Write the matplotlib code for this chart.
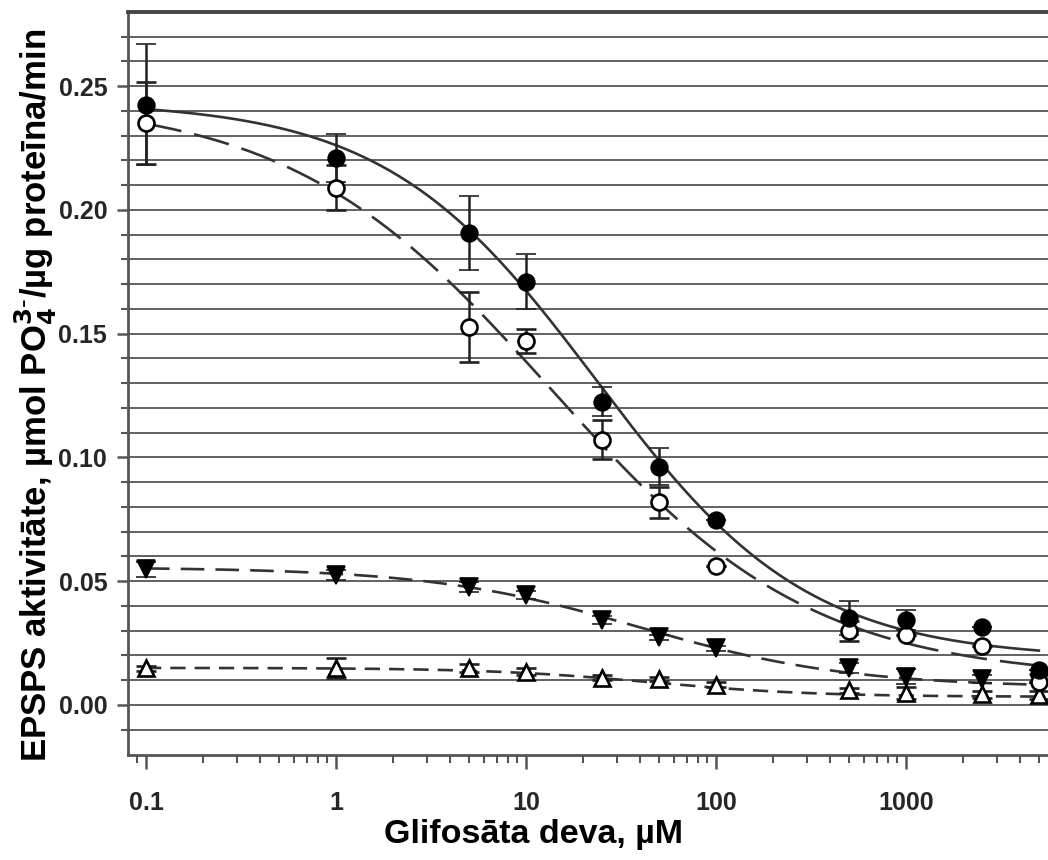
import numpy as np
import matplotlib
matplotlib.use("Agg")
import matplotlib.pyplot as plt
from matplotlib.ticker import FixedLocator, LogLocator, NullFormatter, FixedFormatter

# ---------------- data ----------------
doses = [0.1, 1, 5, 10, 25, 50, 100, 500, 1000, 2500, 5000]

filled_circle = [0.2425, 0.221, 0.1905, 0.171, 0.1225, 0.0963, 0.0748, 0.0352, 0.0343, 0.0316, 0.0143]
filled_circle_err = [0.0245, 0.0096, 0.015, 0.011, 0.0058, 0.0074, 0.0, 0.0068, 0.0040, 0.0, 0.0]

open_circle = [0.2352, 0.209, 0.1527, 0.147, 0.1072, 0.0818, 0.0563, 0.0300, 0.0283, 0.0240, 0.0094]
open_circle_err = [0.0165, 0.009, 0.014, 0.005, 0.0078, 0.0062, 0.0, 0.0040, 0.0, 0.0, 0.0]

filled_tri = [0.0548, 0.0525, 0.0478, 0.0444, 0.0343, 0.0273, 0.0229, 0.0148, 0.0115, 0.0105, 0.0090]
filled_tri_err = [0.0030, 0.0020, 0.0020, 0.0015, 0.0015, 0.0010, 0.0010, 0.0020, 0.0030, 0.0015, 0.0]

open_tri = [0.0149, 0.0150, 0.0149, 0.0135, 0.0110, 0.0105, 0.0081, 0.0060, 0.0049, 0.0043, 0.0040]
open_tri_err = [0.0010, 0.0040, 0.0015, 0.0015, 0.0010, 0.0010, 0.0010, 0.0010, 0.0025, 0.0015, 0.0015]

# fitted dose-response (4PL) curve parameters: top, bottom, IC50 (µM), Hill slope
fit_filled_circle = [0.2438, 0.0186, 23.44, 0.78]
fit_open_circle = [0.2450, 0.0104, 13.49, 0.63]
fit_filled_tri = [0.0556, 0.0071, 39.81, 0.78]
fit_open_tri = [0.0150, 0.0033, 45.71, 1.00]

x_tick_vals = [0.1, 1, 10, 100, 1000]
x_tick_labels = ['0.1', '1', '10', '100', '1000']
y_tick_vals = [0.0, 0.05, 0.10, 0.15, 0.20, 0.25]
y_tick_labels = ['0.00', '0.05', '0.10', '0.15', '0.20', '0.25']


def four_pl(x, top, bottom, ic50, hill):
    return bottom + (top - bottom) / (1 + (x / ic50) ** hill)


# ---------------- figure ----------------
plt.rcParams['font.family'] = ['Liberation Sans', 'DejaVu Sans']
plt.rcParams['lines.scale_dashes'] = False

fig = plt.figure(figsize=(10.48, 8.6), dpi=100)
ax = fig.add_axes([128 / 1048, 105 / 860, 920 / 1048, 743 / 860])
ax.set_xscale('log')
ax.set_xlim(0.0804, 5585)
ax.set_ylim(-0.0202, 0.2799)

line_col = '#333333'
xs = np.logspace(-1, np.log10(5000), 400)

curves = [
    (fit_filled_circle, '-'),
    (fit_open_circle, (0, (26, 9.5))),
    (fit_filled_tri, (0, (17, 8))),
    (fit_open_tri, (0, (11, 6.5))),
]
for p, ls in curves:
    ax.plot(xs, four_pl(xs, *p), color=line_col, lw=1.9, linestyle=ls, zorder=3)

eb = dict(ecolor='#222222', elinewidth=1.8, capsize=7, capthick=1.8, linestyle='none', zorder=4)
ax.errorbar(doses, open_tri, yerr=open_tri_err, marker='^', ms=12, mfc='white', mec='black', mew=1.9, **eb)
ax.errorbar(doses, filled_tri, yerr=filled_tri_err, marker='v', ms=12.5, mfc='black', mec='black', mew=1.2, **eb)
ax.errorbar(doses, open_circle, yerr=open_circle_err, marker='o', ms=11.5, mfc='white', mec='black', mew=1.9, **eb)
ax.errorbar(doses, filled_circle, yerr=filled_circle_err, marker='o', ms=12, mfc='black', mec='black', mew=1.2, **eb)

# horizontal grid every 0.01
ax.yaxis.set_major_locator(FixedLocator(y_tick_vals))
ax.yaxis.set_major_formatter(FixedFormatter(y_tick_labels))
ax.yaxis.set_minor_locator(FixedLocator([v / 100 for v in range(-1, 28)]))
for v in range(-1, 28):
    ax.axhline(v / 100, color='#555555', lw=1.3, zorder=1)

ax.xaxis.set_major_locator(FixedLocator(x_tick_vals))
ax.xaxis.set_major_formatter(FixedFormatter(x_tick_labels))
ax.xaxis.set_minor_locator(LogLocator(base=10, subs=np.arange(2, 10)))
ax.xaxis.set_minor_formatter(NullFormatter())

ax.tick_params(axis='both', which='major', direction='out', colors='#555555', width=1.8,
               labelcolor='#262626', labelsize=18)
ax.tick_params(axis='y', which='major', length=8, pad=7)
ax.tick_params(axis='y', which='minor', length=5, width=1.5, colors='#555555')
ax.tick_params(axis='x', which='major', length=10, pad=16)
ax.tick_params(axis='x', which='minor', length=6, width=1.5, colors='#555555')
for lab in ax.get_xticklabels() + ax.get_yticklabels():
    lab.set_fontweight('bold')

for s in ['left', 'bottom']:
    ax.spines[s].set_color('#555555')
    ax.spines[s].set_linewidth(2.0)
ax.spines['top'].set_color('#444444')
ax.spines['top'].set_linewidth(2.8)
ax.spines['right'].set_visible(False)

fig.text(36 / 1048, 1 - 395 / 860, 'EPSPS aktivitāte, µmol PO$_\\mathbf{4}^{\\mathbf{3\\text{-}}}$/µg proteīna/min',
         rotation=90, ha='center', va='center', fontsize=25, fontweight='bold')
fig.text(534 / 1048, 1 - 835 / 860, 'Glifosāta deva, µM', ha='center', va='center',
         fontsize=24.5, fontweight='bold')

fig.savefig('out.png', dpi=100, facecolor='white')
